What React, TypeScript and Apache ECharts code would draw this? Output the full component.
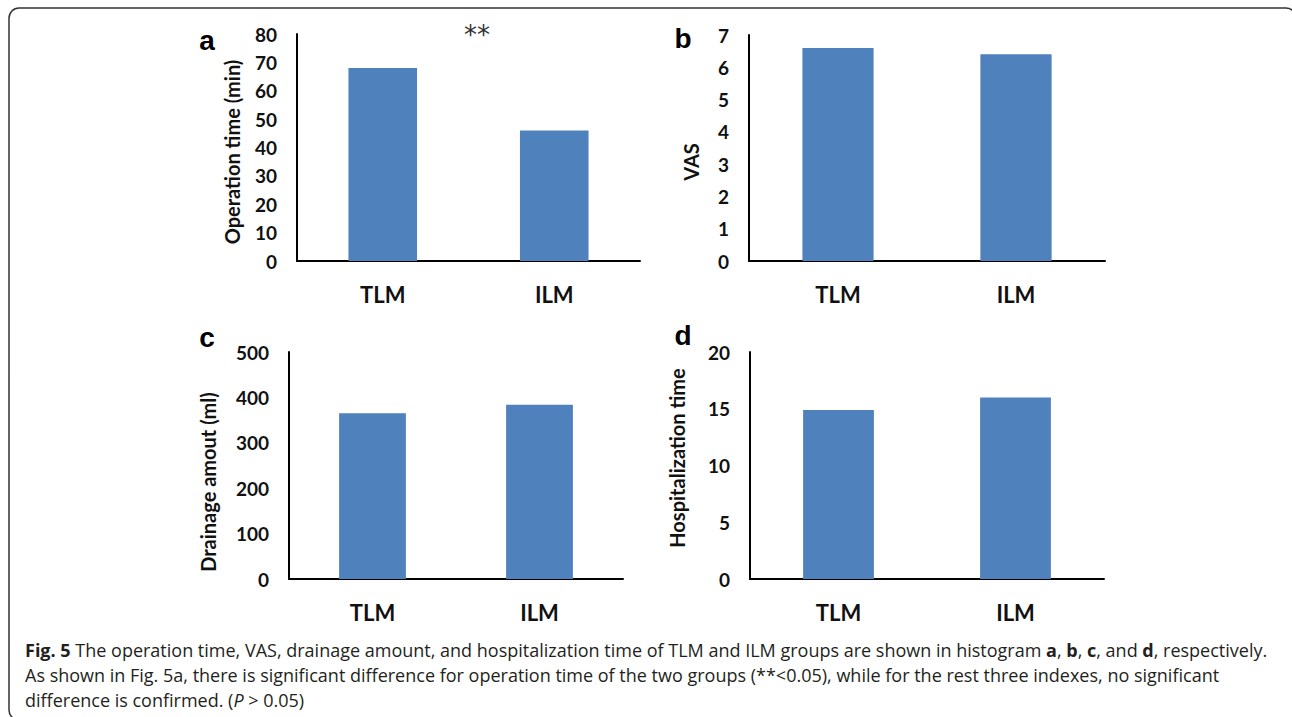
import React, { useEffect, useRef } from "react";
import * as echarts from "echarts";

const categories = ["TLM", "ILM"];
const operationTime = [68, 46];
const vasScores = [6.6, 6.4];
const drainageAmount = [365, 384];
const hospitalizationTime = [14.9, 16.0];

const panelLetters = ["a", "b", "c", "d"];
const yAxisNames = ["Operation time (min)", "VAS", "Drainage amout (ml)", "Hospitalization time"];
const yMax = [80, 7, 500, 20];
const yInterval = [10, 1, 100, 5];
const significance = "**";

const captionLines = [
  "{b|Fig. 5} The operation time, VAS, drainage amount, and hospitalization time of TLM and ILM groups are shown in histogram {b|a}, {b|b}, {b|c}, and {b|d}, respectively.",
  "As shown in Fig. 5a, there is significant difference for operation time of the two groups (**<0.05), while for the rest three indexes, no significant",
  "difference is confirmed. ({i|P} > 0.05)",
];

const BAR_COLOR = "#4f81bd";
const FONT = "Lato";
const CAP_FONT = "'Open Sans'";

export default function App() {
  const ref = useRef<HTMLDivElement>(null);

  useEffect(() => {
    if (!ref.current) return;
    const chart = echarts.init(ref.current, null, { renderer: "svg" });

    const grids = [
      { left: 297, top: 34, width: 343, height: 227 },
      { left: 749, top: 35, width: 356, height: 226 },
      { left: 289, top: 352, width: 334, height: 227 },
      { left: 750, top: 352, width: 354, height: 227 },
    ];
    const seriesData = [operationTime, vasScores, drainageAmount, hospitalizationTime];

    const xAxis = grids.map((_, i) => ({
      type: "category",
      gridIndex: i,
      data: categories,
      axisTick: { show: false },
      axisLine: { show: true, lineStyle: { color: "#000", width: 2 } },
      axisLabel: {
        margin: 22,
        color: "#111",
        fontFamily: FONT,
        fontWeight: "bold",
        fontSize: 22,
      },
    }));

    const yAxis = grids.map((_, i) => ({
      type: "value",
      gridIndex: i,
      min: 0,
      max: yMax[i],
      interval: yInterval[i],
      splitLine: { show: false },
      axisTick: { show: false },
      axisLine: { show: true, lineStyle: { color: "#000", width: 2 } },
      axisLabel: {
        margin: 20,
        color: "#111",
        fontFamily: FONT,
        fontWeight: "bold",
        fontSize: 19,
      },
    }));

    const series = seriesData.map((d, i) => ({
      type: "bar",
      xAxisIndex: i,
      yAxisIndex: i,
      data: d,
      barWidth: "40%",
      itemStyle: { color: BAR_COLOR },
    }));

    const letterPos = [
      [207, 40],
      [683, 38],
      [207, 337],
      [683, 335],
    ];
    const namePos = [
      [232, 152],
      [691, 162],
      [208, 482],
      [677, 458],
    ];

    const graphic: any[] = [
      {
        type: "rect",
        shape: { x: 9, y: 8, width: 1287, height: 712, r: 10 },
        style: { fill: "none", stroke: "#333", lineWidth: 1.5 },
      },
    ];
    panelLetters.forEach((l, i) => {
      graphic.push({
        type: "text",
        x: letterPos[i][0],
        y: letterPos[i][1],
        style: {
          text: l,
          align: "center",
          verticalAlign: "middle",
          font: "bold 28px 'Liberation Sans'",
          fill: "#000",
        },
      });
    });
    yAxisNames.forEach((n, i) => {
      graphic.push({
        type: "text",
        x: namePos[i][0],
        y: namePos[i][1],
        rotation: Math.PI / 2,
        style: {
          text: n,
          align: "center",
          verticalAlign: "middle",
          font: `bold 20px ${FONT}`,
          fill: "#111",
        },
      });
    });
    graphic.push({
      type: "text",
      x: 477,
      y: 35,
      style: {
        text: significance,
        align: "center",
        verticalAlign: "middle",
        font: "26px 'DejaVu Sans'",
        fill: "#333",
      },
    });
    captionLines.forEach((line, i) => {
      graphic.push({
        type: "text",
        x: 25,
        y: 650 + i * 25,
        style: {
          text: line,
          align: "left",
          verticalAlign: "middle",
          font: `18px ${CAP_FONT}`,
          fill: "#231f20",
          rich: {
            b: { font: `bold 18px ${CAP_FONT}`, fill: "#231f20" },
            i: { font: `italic 18px ${CAP_FONT}`, fill: "#231f20" },
          },
        },
      });
    });

    chart.setOption({
      animation: false,
      backgroundColor: "#fff",
      grid: grids,
      xAxis,
      yAxis,
      series,
      graphic,
    } as any);

    return () => chart.dispose();
  }, []);

  return (
    <div
      ref={ref}
      style={{ position: "fixed", left: 0, top: 0, width: 1292, height: 717 }}
    />
  );
}
